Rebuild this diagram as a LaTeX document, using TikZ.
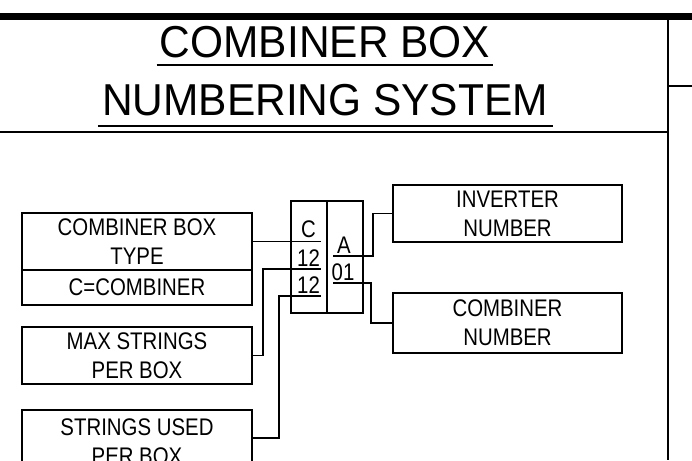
\documentclass[tikz,border=0pt]{standalone}
\usepackage{fontspec}
\setmainfont{Liberation Sans}
\newfontfamily\titlefont[FakeStretch=0.95]{Liberation Sans}
\newfontfamily\cadfont[FakeStretch=0.85]{Liberation Sans}
\usetikzlibrary{calc}
\begin{document}
\begin{tikzpicture}[x=1pt,y=-1pt,line join=miter,
  thinline/.style={line width=1.3pt},
  labelbox/.style={draw,line width=1.3pt,font=\cadfont\fontsize{24}{29}\selectfont,
    align=center,inner sep=0pt,outer sep=0pt,anchor=north west},
  codetext/.style={font=\cadfont\fontsize{24}{29}\selectfont,anchor=base,inner sep=0pt},
  titletext/.style={font=\titlefont\fontsize{44.7}{50}\selectfont,anchor=base,inner sep=0pt}]
\useasboundingbox (0,0) rectangle (692,460);
\fill[white] (0,0) rectangle (692,460);
\clip (0,0) rectangle (692,460);

% frame
\draw[line width=7pt] (0,16.5) -- (692,16.5);
\draw[line width=2pt] (0,132) -- (668,132);
\draw[line width=1.5pt] (668,16.5) -- (668,460);
\draw[line width=1.3pt] (668,86) -- (692,86);

% title
\node[titletext] (t1) at (325,57) {COMBINER BOX};
\node[titletext] (t2) at (325,115) {NUMBERING SYSTEM};
\draw[line width=1.5pt] ($(t1.base west)+(-3,8)$) -- ($(t1.base east)+(3,8)$);
\draw[line width=1.5pt] ($(t2.base west)+(-4,11)$) -- ($(t2.base east)+(5,11)$);

% label boxes
\node[labelbox,minimum width=230pt,minimum height=57pt] (cbt) at (22,213) {COMBINER BOX\\TYPE};
\node[labelbox,minimum width=230pt,minimum height=35pt] (cbc) at (22,270) {C=COMBINER};
\node[labelbox,minimum width=230pt,minimum height=57pt] (max) at (22,327) {MAX STRINGS\\PER BOX};
\node[labelbox,minimum width=230pt,minimum height=64pt] (used) at (22,410) {STRINGS USED\\PER BOX};
\node[labelbox,minimum width=229pt,minimum height=57pt] (inv) at (393,185) {INVERTER\\NUMBER};
\node[labelbox,minimum width=229pt,minimum height=60pt] (cnum) at (393,293) {COMBINER\\NUMBER};

% code box
\node[draw,line width=1.3pt,minimum width=72pt,minimum height=112pt,inner sep=0pt,
  outer sep=0pt,anchor=north west] (code) at (291,201) {};
\draw[thinline] (code.north) -- (code.south);
\node[codetext] (tC) at (308.5,237) {C};
\node[codetext] (t12a) at (308.5,266) {12};
\node[codetext] (t12b) at (308.5,293) {12};
\node[codetext] (tA) at (344,253) {A};
\node[codetext] (t01) at (343,280.5) {01};

\coordinate (uC) at (321,241.5);
\coordinate (u12a) at (321,269);
\coordinate (u12b) at (321,296);
\coordinate (uA) at (333,256);
\coordinate (u01) at (333,283);

% connectors
\draw[thinline] (cbt.east) -- (uC);
\draw[thinline] (max.east) -- ++(11,0) |- (u12a);
\draw[thinline] ($(used.north east)+(0,28)$) -- ++(27,0) |- (u12b);
\draw[thinline] (uA) -- ++(40,0) |- (inv.west);
\draw[thinline] (u01) -- ++(38,0) |- (cnum.west);
\end{tikzpicture}
\end{document}
